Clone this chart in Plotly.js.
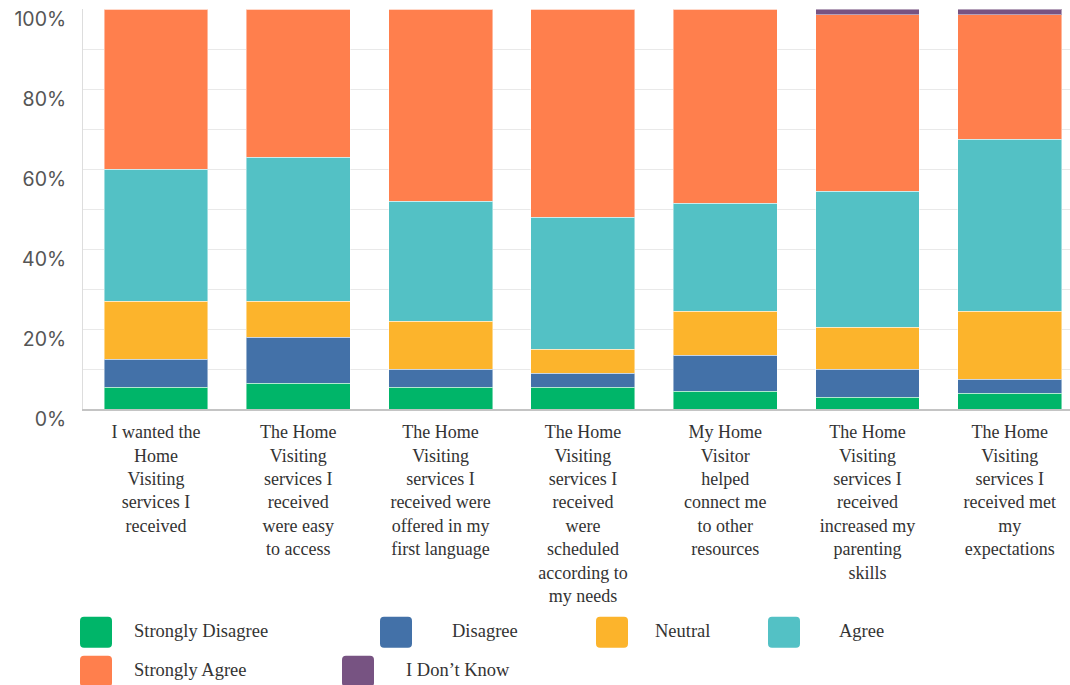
<!DOCTYPE html>
<html>
<head>
<meta charset="utf-8">
<script src="https://cdn.plot.ly/plotly-3.0.1.min.js"></script>
<style>
  html, body { margin: 0; padding: 0; background: #ffffff; }
  #chart { width: 1070px; height: 685px; }
</style>
</head>
<body>
<div id="chart"></div>
<script>
// ---- Data (percent of respondents) ----
const categories = [
  "I wanted the<br>Home<br>Visiting<br>services I<br>received",
  "The Home<br>Visiting<br>services I<br>received<br>were easy<br>to access",
  "The Home<br>Visiting<br>services I<br>received were<br>offered in my<br>first language",
  "The Home<br>Visiting<br>services I<br>received<br>were<br>scheduled<br>according to<br>my needs",
  "My Home<br>Visitor<br>helped<br>connect me<br>to other<br>resources",
  "The Home<br>Visiting<br>services I<br>received<br>increased my<br>parenting<br>skills",
  "The Home<br>Visiting<br>services I<br>received met<br>my<br>expectations"
];
const seriesNames = ["Strongly Disagree", "Disagree", "Neutral", "Agree", "Strongly Agree", "I Don\u2019t Know"];
const stronglyDisagree = [5.5, 6.5, 5.5, 5.5, 4.5, 3.0, 4.0];
const disagree         = [7.0, 11.5, 4.5, 3.5, 9.0, 7.0, 3.5];
const neutral          = [14.5, 9.0, 12.0, 6.0, 11.0, 10.5, 17.0];
const agree            = [33.0, 36.0, 30.0, 33.0, 27.0, 34.0, 43.0];
const stronglyAgree    = [40.0, 37.0, 48.0, 52.0, 48.5, 44.1, 31.1];
const dontKnow         = [0, 0, 0, 0, 0, 1.4, 1.4];
const yTickValues = [0, 20, 40, 60, 80, 100];
const yTickLabels = ["0%", "20%", "40%", "60%", "80%", "100%"];

// ---- Styles ----
const colors = ["#00B569", "#4371A8", "#FCB42C", "#53C1C5", "#FF7F4D", "#775382"];
const seriesValues = [stronglyDisagree, disagree, neutral, agree, stronglyAgree, dontKnow];

const traces = seriesValues.map((vals, i) => ({
  type: "bar",
  name: seriesNames[i],
  x: categories,
  y: vals,
  marker: { color: colors[i], line: { color: "rgba(255,255,255,0.45)", width: 1 } },
  showlegend: false,
  hoverinfo: "name+y"
}));

// plot area geometry (px)
const PL = 83, PR = 1070, PT = 9.3, PB = 409.3;
const px2x = px => (px - PL) / (PR - PL);
const px2y = py => (PB - py) / (PB - PT);

// custom legend layout (swatch left x, text left x, row)
const legendItems = [
  { sx: 80,  tx: 132, row: 0 },
  { sx: 380, tx: 450, row: 0 },
  { sx: 596, tx: 653, row: 0 },
  { sx: 768, tx: 837, row: 0 },
  { sx: 80,  tx: 132, row: 1 },
  { sx: 342, tx: 404, row: 1 }
];
const rowTop = [617, 656];
const SW = 32, SH = 31, R = 4;
const shapes = [], annotations = [];
legendItems.forEach((it, i) => {
  const top = rowTop[it.row];
  const x0 = px2x(it.sx), x1 = px2x(it.sx + SW);
  const y0 = px2y(top + SH), y1 = px2y(top);
  const rx = R / (PR - PL), ry = R / (PB - PT);
  // rounded-corner swatch
  const path = `M${x0 + rx},${y0} L${x1 - rx},${y0} Q${x1},${y0} ${x1},${y0 + ry} ` +
               `L${x1},${y1 - ry} Q${x1},${y1} ${x1 - rx},${y1} L${x0 + rx},${y1} ` +
               `Q${x0},${y1} ${x0},${y1 - ry} L${x0},${y0 + ry} Q${x0},${y0} ${x0 + rx},${y0} Z`;
  shapes.push({
    type: "path", xref: "paper", yref: "paper", path: path,
    fillcolor: colors[i], line: { width: 0 }, layer: "above"
  });
  annotations.push({
    xref: "paper", yref: "paper",
    x: px2x(it.tx), y: px2y(top + SH / 2 - 1),
    xanchor: "left", yanchor: "middle",
    text: seriesNames[i], showarrow: false,
    font: { family: "Liberation Serif, Times New Roman, serif", size: 18.5, color: "#333333" }
  });
});

const layout = {
  width: 1070, height: 685,
  margin: { l: PL, r: 1070 - PR, t: PT, b: 685 - PB, pad: 0 },
  paper_bgcolor: "#ffffff", plot_bgcolor: "#ffffff",
  barmode: "stack",
  bargap: 0.27,
  showlegend: false,
  xaxis: {
    type: "category",
    range: [-0.513, 6.423],
    showline: true, linecolor: "#c4c4c4", linewidth: 1.5,
    showgrid: false, zeroline: false, ticks: "",
    ticklabelstandoff: 6,
    tickfont: { family: "Liberation Serif, Times New Roman, serif", size: 18, color: "#333333" },
    fixedrange: true
  },
  yaxis: {
    range: [0, 100],
    tickmode: "array",
    tickvals: yTickValues,
    ticktext: yTickLabels,
    showline: true, linecolor: "#dddddd", linewidth: 1,
    showgrid: true, gridcolor: "#e9e9e9", gridwidth: 1,
    minor: { dtick: 10, showgrid: true, gridcolor: "#e9e9e9", gridwidth: 1 },
    zeroline: false, ticks: "",
    ticklabelstandoff: 12,
    ticklabelshift: 10,
    tickfont: { family: "Inter, Open Sans, sans-serif", size: 19.5, color: "#555555" },
    fixedrange: true
  },
  shapes: shapes,
  annotations: annotations
};

Plotly.newPlot("chart", traces, layout, { displayModeBar: false, staticPlot: true });
</script>
</body>
</html>
